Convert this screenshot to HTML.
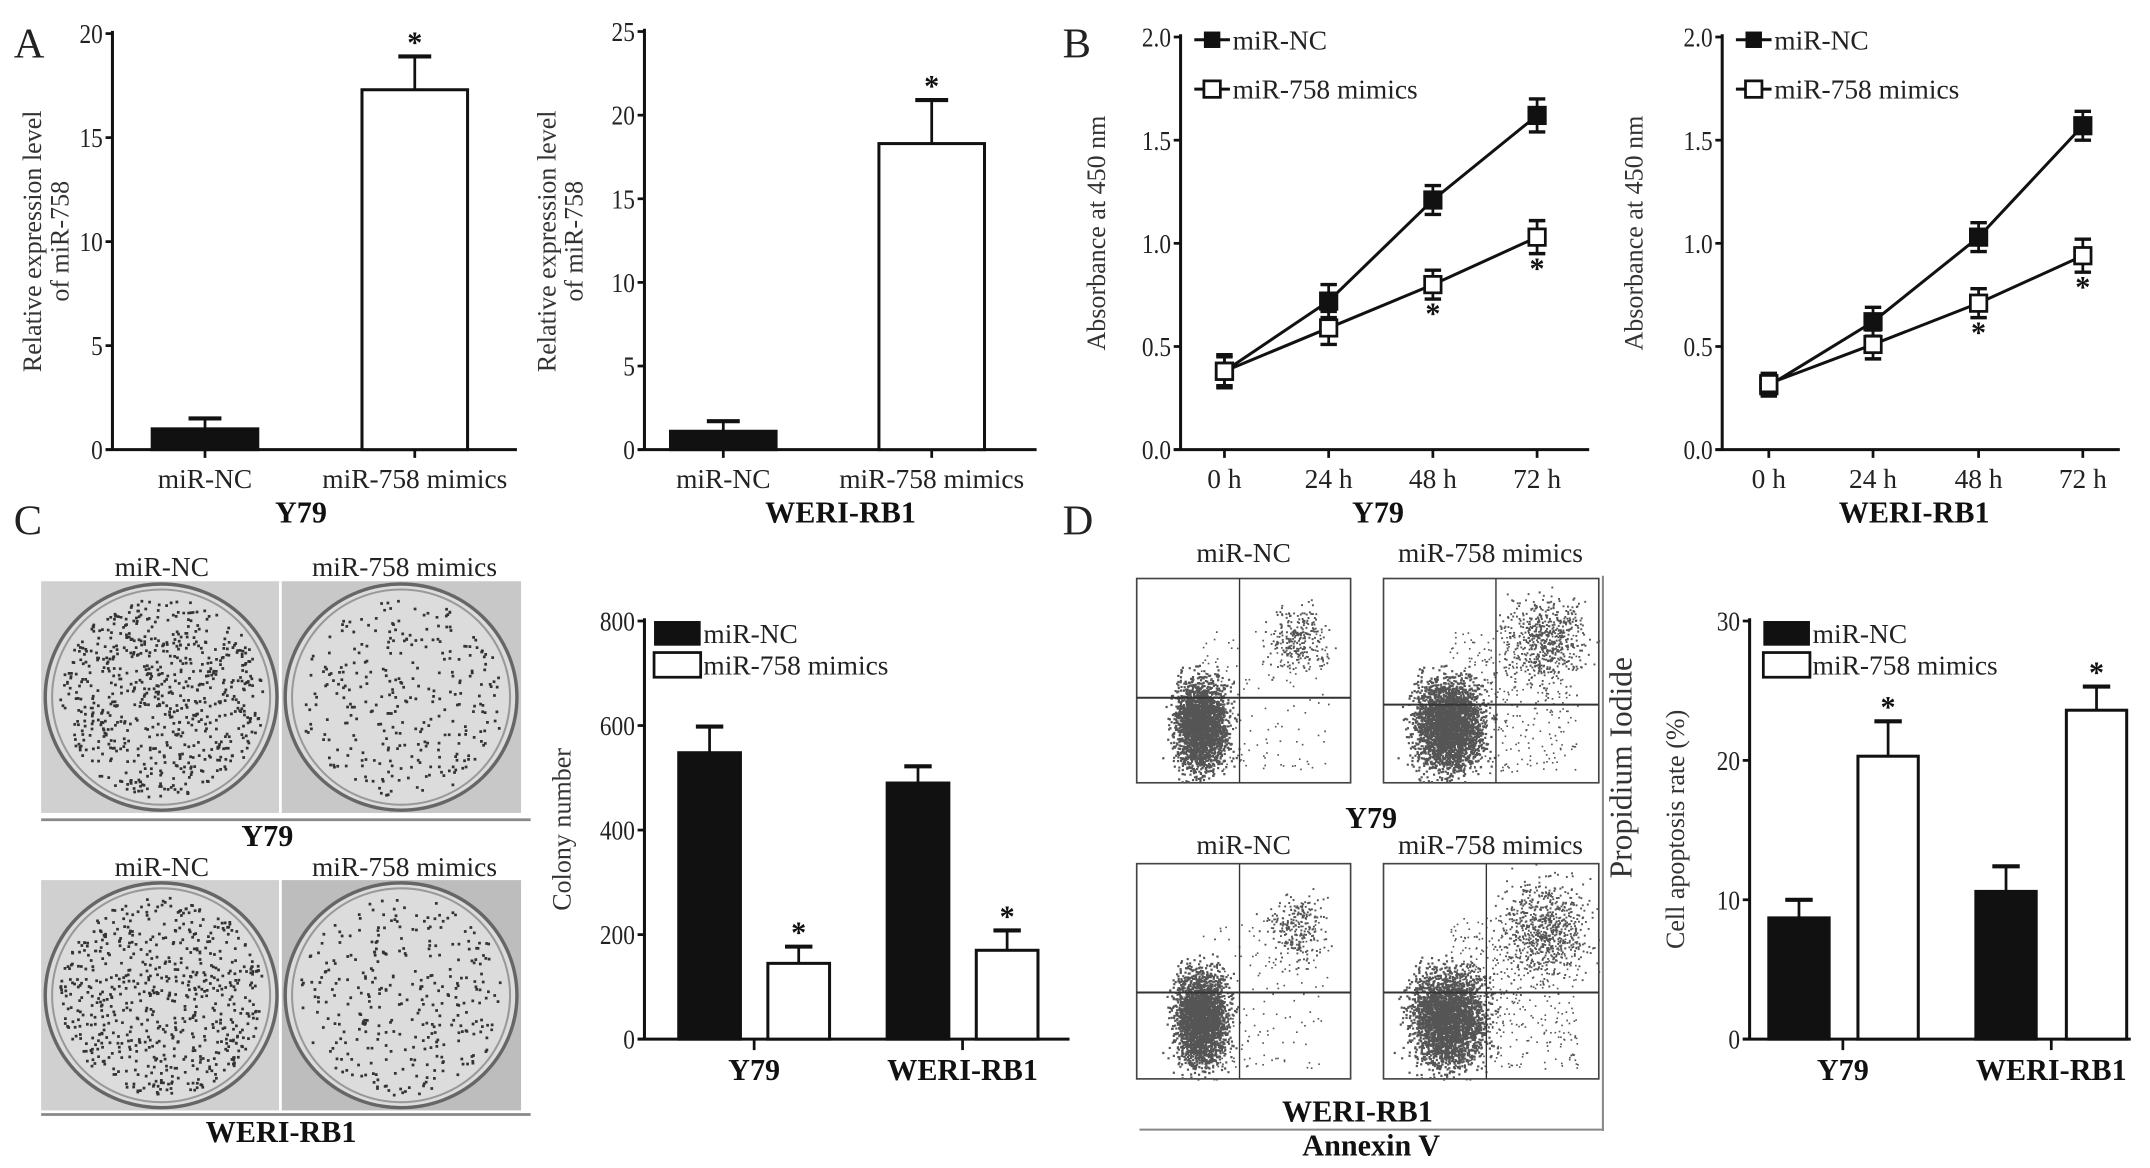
<!DOCTYPE html>
<html><head><meta charset="utf-8">
<style>
html,body{margin:0;padding:0;background:#fff;}
svg{display:block;font-family:"Liberation Serif",serif;}
.tk{font-size:20px;fill:#222;}
.ttl{font-size:19px;fill:#333;}
.big{font-size:22px;font-weight:bold;fill:#111;}
.pi{font-size:23px;fill:#333;}
.lab{font-size:31px;fill:#222;}
</style></head>
<body>
<svg id="fig" width="2150" height="1168" viewBox="0 0 1568 852" preserveAspectRatio="none" xmlns="http://www.w3.org/2000/svg"></svg>
<script>
// ---- data ----
const barCats = ["miR-NC","miR-758 mimics"];
const a1Vals = [1.0, 17.3];
const a1Errs = [0.5, 1.6];
const a2Vals = [1.1, 18.3];
const a2Errs = [0.6, 2.6];
const timeCats = ["0 h","24 h","48 h","72 h"];
const b1NC = [0.38, 0.72, 1.21, 1.62];
const b1NCerr = [0.07, 0.08, 0.07, 0.08];
const b1Mim = [0.38, 0.59, 0.80, 1.03];
const b1MimErr = [0.08, 0.08, 0.07, 0.08];
const b2NC = [0.31, 0.62, 1.03, 1.57];
const b2NCerr = [0.05, 0.07, 0.07, 0.07];
const b2Mim = [0.32, 0.51, 0.71, 0.94];
const b2MimErr = [0.05, 0.07, 0.07, 0.08];
const groupCats = ["Y79","WERI-RB1"];
const cNC = [548, 490];
const cNCerr = [50, 32];
const cMim = [145, 170];
const cMimErr = [32, 38];
const dNC = [8.7, 10.6];
const dNCerr = [1.3, 1.8];
const dMim = [20.3, 23.6];
const dMimErr = [2.5, 1.7];
const aTicks = [0,5,10,15,20];
const a2Ticks = [0,5,10,15,20,25];
const bTicks = [0,0.5,1.0,1.5,2.0];
const cTicks = [0,200,400,600,800];
const dTicks = [0,10,20,30];

const svg = document.getElementById('fig');
const NS = "http://www.w3.org/2000/svg";
function el(tag, attrs, parent){
  const e = document.createElementNS(NS, tag);
  for (const k in attrs) e.setAttribute(k, attrs[k]);
  (parent||svg).appendChild(e);
  return e;
}
function txt(x,y,s,cls,anchor,parent,extra){
  const t = el('text',{x:x,y:y,'class':cls,'text-anchor':anchor||'middle'},parent);
  if (extra) for (const k in extra) t.setAttribute(k, extra[k]);
  t.textContent = s;
  return t;
}
function mkY(v0,v1,p0,p1){ return v => p0 + (v - v0)/(v1 - v0)*(p1 - p0); }

function axes(g, x0, x1, y, yTop){
  el('line',{x1:x0,y1:yTop-2,x2:x0,y2:y,stroke:'#111','stroke-width':2.2},g);
  el('line',{x1:x0-5,y1:y,x2:x1,y2:y,stroke:'#111','stroke-width':2.2},g);
}
function yTicks(g, x0, ticks, Y, fmt){
  ticks.forEach(t=>{
    const yy = Y(t);
    const tl = el('line',{x1:x0-5,y1:yy,x2:x0,y2:yy,stroke:'#111','stroke-width':2},g);
    
    
    const lt = txt(x0-7, yy+7, fmt(t), 'tk', 'end', g, {transform:`translate(${x0-7},${yy}) scale(0.85,1) translate(${-(x0-7)},${-yy})`});
    
    
  });
}
function errBar(g, xc, yTop, yErr, w){
  el('line',{x1:xc,y1:yTop,x2:xc,y2:yErr,stroke:'#111','stroke-width':2},g);
  el('line',{x1:xc-w,y1:yErr,x2:xc+w,y2:yErr,stroke:'#111','stroke-width':3},g);
}
function star(g,x,y){
  const s = txt(x,y,'*','big','middle',g);
  
  
}

[['A',10,42],['B',775,42],['C',10,390],['D',775,390]].forEach(p=>{
  const t = txt(p[1],p[2],p[0],'lab','start');
  
  
});

function panelA(name, ax0, ax1, yMax, ticks, vals, errs, bx, bw, cell, ttlX){
  const g = el('g',{});
  
  
  const Y = mkY(0, yMax, 328, ticks===aTicks?24.5:23);
  axes(g, ax0, ax1, 328, Y(yMax));
  yTicks(g, ax0, ticks, Y, t=>String(t));
  vals.forEach((v,i)=>{
    const r = el('rect',{x:bx[i],y:Y(v),width:bw,height:328-Y(v),fill:i===0?'#111':'#fff',stroke:'#111','stroke-width':2.2},g);
    
    
    errBar(g, bx[i]+bw/2, Y(v), Y(v+errs[i]), 12);
    el('line',{x1:bx[i]+bw/2,y1:328,x2:bx[i]+bw/2,y2:334,stroke:'#111','stroke-width':2},g);
    const lt = txt(bx[i]+bw/2, 356, barCats[i], 'tk', 'middle', g);
    
    
    if (i===1) star(g, bx[i]+bw/2, Y(v+errs[i])-3);
  });
  const c = txt((ax0+ax1)/2+ (name==='chart-a-y79'? -10:0), 381, cell, 'big', 'middle', g);
  
  
  const t1 = txt(0,0,'Relative expression level','ttl','middle',g,{transform:`translate(${ttlX},176) rotate(-90)`});
  
  
  txt(0,0,'of miR-758','ttl','middle',g,{transform:`translate(${ttlX+20},176) rotate(-90)`});
}
panelA('chart-a-y79', 82, 377, 20, aTicks, a1Vals, a1Errs, [111,264], 77, 'Y79', 30);
panelA('chart-a-weri', 470, 756, 25, a2Ticks, a2Vals, a2Errs, [489,641], 77, 'WERI-RB1', 405);

function panelB(name, ax0, ax1, xs, nc, ncE, mi, miE, cell, ttlX){
  const g = el('g',{});
  
  
  const Y = mkY(0, 2.0, 328, 27);
  axes(g, ax0, ax1, 328, 27);
  yTicks(g, ax0, bTicks, Y, t=>t.toFixed(1));
  xs.forEach((x,i)=>{
    el('line',{x1:x,y1:328,x2:x,y2:334,stroke:'#111','stroke-width':2},g);
    const lt = txt(x, 356, timeCats[i], 'tk', 'middle', g);
    
    
  });
  [[nc,ncE,'#111','series-mir-nc'],[mi,miE,'#fff','series-mir-758-mimics']].forEach(s=>{
    const pl = el('polyline',{points:s[0].map((v,i)=>xs[i]+','+Y(v)).join(' '),fill:'none',stroke:'#111','stroke-width':2.2},g);
    
    
    s[0].forEach((v,i)=>{
      const x = xs[i];
      el('line',{x1:x,y1:Y(v-s[1][i]),x2:x,y2:Y(v+s[1][i]),stroke:'#111','stroke-width':2},g);
      el('line',{x1:x-6,y1:Y(v-s[1][i]),x2:x+6,y2:Y(v-s[1][i]),stroke:'#111','stroke-width':2.5},g);
      el('line',{x1:x-6,y1:Y(v+s[1][i]),x2:x+6,y2:Y(v+s[1][i]),stroke:'#111','stroke-width':2.5},g);
      const m = el('rect',{x:x-6,y:Y(v)-6,width:12,height:12,fill:s[2],stroke:'#111','stroke-width':2},g);
      
      
    });
  });
  [2,3].forEach(i=> star(g, xs[i], Y(mi[i]-miE[i])+18));
  const lg = el('g',{},g);
  
  
  const lx = ax0+10;
  el('line',{x1:lx,y1:29,x2:lx+26,y2:29,stroke:'#111','stroke-width':2.2},lg);
  el('rect',{x:lx+7,y:23,width:12,height:12,fill:'#111'},lg);
  txt(lx+28,36,'miR-NC','tk','start',lg);
  el('line',{x1:lx,y1:65,x2:lx+26,y2:65,stroke:'#111','stroke-width':2.2},lg);
  el('rect',{x:lx+7,y:59,width:12,height:12,fill:'#fff',stroke:'#111','stroke-width':2},lg);
  txt(lx+28,72,'miR-758 mimics','tk','start',lg);
  const c = txt((ax0+ax1)/2-5, 381, cell, 'big', 'middle', g);
  
  
  const t1 = txt(0,0,'Absorbance at 450 nm','ttl','middle',g,{transform:`translate(${ttlX},170) rotate(-90)`});
  
  
}
panelB('chart-b-y79', 861, 1159, [893,969,1045,1121], b1NC, b1NCerr, b1Mim, b1MimErr, 'Y79', 806);
panelB('chart-b-weri', 1256, 1546, [1290,1366,1443,1519], b2NC, b2NCerr, b2Mim, b2MimErr, 'WERI-RB1', 1198);

function grouped(name, ax0, ax1, yMax, ticks, nc, ncE, mi, miE, ncX, miX, bw, tickX, ttl, ttlX, legX){
  const g = el('g',{});
  
  
  const Y = mkY(0, yMax, 758, 453);
  axes(g, ax0, ax1, 758, 453);
  yTicks(g, ax0, ticks, Y, t=>String(t));
  [0,1].forEach(i=>{
    [[nc,ncE,ncX,'#111','bar-mir-nc'],[mi,miE,miX,'#fff','bar-mir-758-mimics']].forEach((s,j)=>{
      const v = s[0][i];
      const r = el('rect',{x:s[2][i],y:Y(v),width:bw,height:758-Y(v),fill:s[3],stroke:'#111','stroke-width':2.2},g);
      
      
      errBar(g, s[2][i]+bw/2, Y(v), Y(v+s[1][i]), 10);
      if (j===1) star(g, s[2][i]+bw/2, Y(v+s[1][i])-3);
    });
    el('line',{x1:tickX[i],y1:758,x2:tickX[i],y2:766,stroke:'#111','stroke-width':2},g);
    const lt = txt(tickX[i], 788, groupCats[i], 'big', 'middle', g);
    
    
  });
  const lg = el('g',{},g);
  
  
  el('rect',{x:legX,y:453,width:34,height:18,fill:'#111'},lg);
  txt(legX+36,469,'miR-NC','tk','start',lg);
  el('rect',{x:legX,y:476,width:34,height:18,fill:'#fff',stroke:'#111','stroke-width':2},lg);
  txt(legX+36,492,'miR-758 mimics','tk','start',lg);
  const t1 = txt(0,0,ttl,'ttl','middle',g,{transform:`translate(${ttlX},605) rotate(-90)`});
  
  
}
grouped('chart-c-colony', 470, 780, 800, cTicks, cNC, cNCerr, cMim, cMimErr, [495,647], [560,712], 45, [550,702], 'Colony number', 416, 477);
grouped('chart-d-apoptosis', 1276, 1554, 30, dTicks, dNC, dNCerr, dMim, dMimErr, [1290,1441], [1355,1507], 44, [1344,1496], 'Cell apoptosis rate (%)', 1228, 1286);

let seed = 12345;
function rnd(){ seed = (seed*1103515245 + 12345) % 2147483648; return seed/2147483648; }
function gauss(){ return (rnd()+rnd()+rnd()+rnd()-2)/0.58; }

function plate(x,y,w,h,bg,n,name){
  const g = el('g',{});
  
  
  el('rect',{x:x,y:y,width:w,height:h,fill:bg},g);
  const cx=x+w/2, cy=y+h/2, rx=w/2-3, ry=h/2-2;
  el('ellipse',{cx:cx,cy:cy,rx:rx,ry:ry,fill:'#dcdcdc',stroke:'#666','stroke-width':2.5},g);
  el('ellipse',{cx:cx,cy:cy,rx:rx-5,ry:ry-4,fill:'none',stroke:'#999','stroke-width':1.5},g);
  let d='';
  for(let i=0;i<n;i++){
    const a=rnd()*Math.PI*2, r=Math.sqrt(rnd())*0.95;
    const px=cx+Math.cos(a)*r*(rx-6), py=cy+Math.sin(a)*r*(ry-6);
    d+=`M${px.toFixed(1)},${py.toFixed(1)}h2v2h-2z`;
  }
  el('path',{d:d,fill:'#333'},g);
}
plate(30,424,175,169,'#d0d0d0',700,'colony-plate-y79-nc');
plate(205,424,175,169,'#c8c8c8',300,'colony-plate-y79-mimics');
plate(30,642,175,168,'#d0d0d0',650,'colony-plate-weri-nc');
plate(205,642,175,168,'#bdbdbd',320,'colony-plate-weri-mimics');
el('line',{x1:204.5,y1:424,x2:204.5,y2:810,stroke:'#fff','stroke-width':2});
el('line',{x1:30,y1:598,x2:387,y2:598,stroke:'#888','stroke-width':2});
el('line',{x1:30,y1:813,x2:387,y2:813,stroke:'#888','stroke-width':2});
[[118,420,'miR-NC'],[295,420,'miR-758 mimics'],[118,639,'miR-NC'],[295,639,'miR-758 mimics']].forEach(h=>{
  const t=txt(h[0],h[1],h[2],'tk','middle');
  
  
});
txt(195,617,'Y79','big','middle');
txt(205,833,'WERI-RB1','big','middle');

function flow(x,y,w,h,gy,vx,nLow,nHigh,spread,name){
  const g = el('g',{});
  
  
  el('rect',{x:x,y:y,width:w,height:h,fill:'#fff',stroke:'#444','stroke-width':1.2},g);
  let d='';
  for(let i=0;i<nLow;i++){
    const px=x+w*0.3+gauss()*w*0.06*spread, py=y+h*0.72+gauss()*h*0.11;
    if(px>x&&px<x+w&&py>y&&py<y+h) d+=`M${px.toFixed(1)},${py.toFixed(1)}h1.6v1.6h-1.6z`;
  }
  for(let i=0;i<nHigh;i++){
    const px=x+w*0.75+gauss()*w*0.07*spread, py=y+h*0.3+gauss()*h*0.08*spread;
    if(px>x&&px<x+w&&py>y&&py<y+h) d+=`M${px.toFixed(1)},${py.toFixed(1)}h1.4v1.4h-1.4z`;
  }
  for(let i=0;i<nHigh*0.6;i++){
    const px=x+w*(0.3+rnd()*0.6), py=y+h*(0.25+rnd()*0.7);
    d+=`M${px.toFixed(1)},${py.toFixed(1)}h1.2v1.2h-1.2z`;
  }
  el('path',{d:d,fill:'#555'},g);
  el('line',{x1:x,y1:gy,x2:x+w,y2:gy,stroke:'#333','stroke-width':1.5},g);
  el('line',{x1:vx,y1:y,x2:vx,y2:y+h,stroke:'#333','stroke-width':1},g);
}
flow(829,422,156,149,509,904,2600,250,1,'flow-plot-y79-nc');
flow(1009,422,157,149,514,1091,3000,600,1.3,'flow-plot-y79-mimics');
flow(829,630,156,157,724,904,2600,250,1,'flow-plot-weri-nc');
flow(1009,630,157,157,724,1084,3000,700,1.4,'flow-plot-weri-mimics');
el('line',{x1:1169,y1:420,x2:1169,y2:825,stroke:'#888','stroke-width':1.5});
el('line',{x1:831,y1:824,x2:1169,y2:824,stroke:'#888','stroke-width':1.5});
[[907,410,'miR-NC'],[1087,410,'miR-758 mimics'],[907,623,'miR-NC'],[1087,623,'miR-758 mimics']].forEach(h=>{
  const t=txt(h[0],h[1],h[2],'tk','middle');
  
  
});
txt(1000,604,'Y79','big','middle');
txt(990,818,'WERI-RB1','big','middle');
txt(1000,843,'Annexin V','big','middle');
txt(0,0,'Propidium Iodide','pi','middle',svg,{transform:'translate(1190,560) rotate(-90)'});
</script>
</body></html>
